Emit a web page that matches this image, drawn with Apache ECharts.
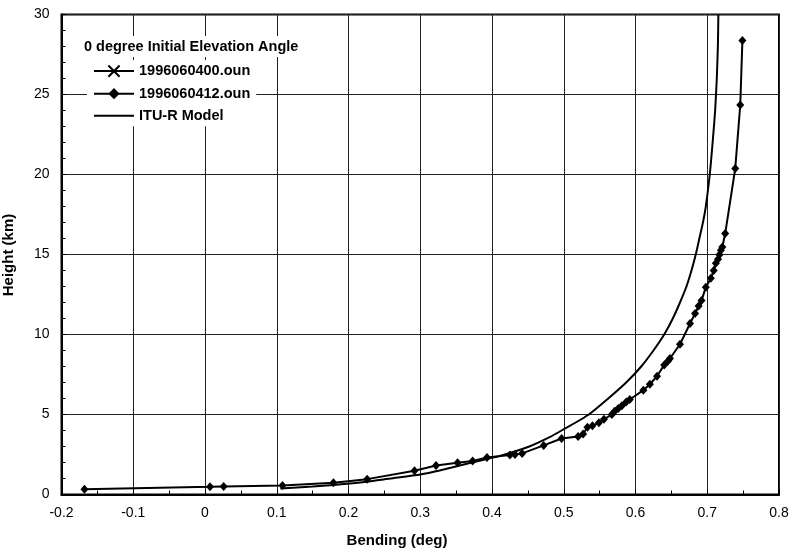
<!DOCTYPE html>
<html>
<head>
<meta charset="utf-8">
<script src="https://cdn.jsdelivr.net/npm/echarts@6/dist/echarts.min.js"></script>
<style>
  html, body { margin: 0; padding: 0; background: #fff; }
  #chart { width: 794px; height: 558px; }
</style>
</head>
<body>
<div id="chart"></div>
<script>
// Ray bending versus height, 0 degree initial elevation
const chartTitle = '0 degree Initial Elevation Angle';
const seriesNames = ['1996060400.oun', '1996060412.oun', 'ITU-R Model'];
const xTicks = ['-0.2', '-0.1', '0', '0.1', '0.2', '0.3', '0.4', '0.5', '0.6', '0.7', '0.8'];
const yTicks = ['0', '5', '10', '15', '20', '25', '30'];

// 1996060400.oun (no samples plotted)
const bend0400 = [];
const height0400 = [];

// 1996060412.oun
const bend0412 = [-0.168, 0.007, 0.026, 0.108, 0.179, 0.226, 0.292, 0.322, 0.352, 0.373,
  0.393, 0.425, 0.432, 0.442, 0.472, 0.497, 0.52, 0.527, 0.533, 0.54,
  0.549, 0.556, 0.567, 0.571, 0.576, 0.581, 0.587, 0.592, 0.611, 0.62,
  0.63, 0.64, 0.645, 0.648, 0.662, 0.676, 0.683, 0.688, 0.692, 0.698,
  0.705, 0.709, 0.712, 0.715, 0.717, 0.719, 0.721, 0.725, 0.739, 0.746, 0.749];
const height0412 = [0.33, 0.48, 0.5, 0.57, 0.74, 0.96, 1.48, 1.81, 1.98, 2.1,
  2.31, 2.47, 2.5, 2.57, 3.07, 3.5, 3.62, 3.78, 4.2, 4.3,
  4.48, 4.7, 5.0, 5.2, 5.37, 5.55, 5.78, 5.94, 6.52, 6.89,
  7.39, 8.1, 8.33, 8.5, 9.39, 10.69, 11.31, 11.78, 12.12, 12.96,
  13.52, 14.0, 14.45, 14.7, 14.98, 15.27, 15.47, 16.31, 20.37, 24.35, 28.37];

// ITU-R Model
const bendItu = [0.105, 0.15, 0.179, 0.225, 0.258, 0.3, 0.327, 0.372, 0.41, 0.452,
  0.481, 0.497, 0.535, 0.562, 0.587, 0.608, 0.625, 0.64, 0.652, 0.662,
  0.671, 0.678, 0.684, 0.689, 0.694, 0.698, 0.7035, 0.7075, 0.711, 0.7133, 0.7148, 0.7155];
const heightItu = [0.37, 0.5, 0.6, 0.8, 1.0, 1.25, 1.5, 2.0, 2.4, 3.0,
  3.6, 4.0, 5.0, 6.0, 7.0, 8.0, 9.0, 10.0, 11.0, 12.0,
  13.0, 14.0, 15.0, 16.0, 17.0, 18.0, 20.0, 22.0, 24.0, 26.0, 28.0, 30.0];

const pairs = (xs, ys) => xs.map((x, i) => [x, ys[i]]);

const FONT = '"Liberation Sans", Arial, Helvetica, sans-serif';
const chart = echarts.init(document.getElementById('chart'), null, { renderer: 'canvas' });

chart.setOption({
  backgroundColor: '#fff',
  animation: false,
  grid: {
    left: 61.5, right: 15, top: 14.5, bottom: 63.5,
    show: true, borderColor: '#000', borderWidth: 2, backgroundColor: 'transparent'
  },
  title: {
    text: chartTitle,
    left: 78, top: 36,
    padding: [3, 6, 3, 6],
    backgroundColor: '#fff',
    textStyle: { fontFamily: FONT, fontSize: 14.5, fontWeight: 'bold', color: '#000' }
  },
  legend: {
    orient: 'vertical',
    left: 87, top: 60,
    padding: [3, 6, 3, 6],
    backgroundColor: '#fff',
    itemWidth: 40, itemHeight: 14, itemGap: 7,
    data: [
      { name: seriesNames[0] },
      { name: seriesNames[1] },
      { name: seriesNames[2], icon: 'path://M0,0h40v2h-40z' }
    ],
    textStyle: { fontFamily: FONT, fontSize: 14.5, fontWeight: 'bold', color: '#000' }
  },
  xAxis: {
    type: 'value', min: -0.2, max: 0.8, interval: 0.1,
    axisLine: { show: true, onZero: false, lineStyle: { color: '#000', width: 2 } },
    axisTick: { show: true, inside: true, length: 5, lineStyle: { color: '#000' } },
    minorTick: { show: true, splitNumber: 2, length: 4, lineStyle: { color: '#000' } },
    splitLine: { show: true, lineStyle: { color: '#222', width: 1 } },
    axisLabel: {
      margin: 12, fontFamily: FONT, fontSize: 14, color: '#000',
      formatter: v => xTicks[Math.round((v + 0.2) * 10)]
    }
  },
  yAxis: {
    type: 'value', min: 0, max: 30, interval: 5,
    axisLine: { show: true, onZero: false, lineStyle: { color: '#000', width: 2 } },
    axisTick: { show: true, inside: true, length: 5, lineStyle: { color: '#000' } },
    minorTick: { show: true, splitNumber: 5, length: 4, lineStyle: { color: '#000' } },
    splitLine: { show: true, lineStyle: { color: '#222', width: 1 } },
    axisLabel: {
      margin: 12, fontFamily: FONT, fontSize: 14, color: '#000',
      formatter: v => yTicks[Math.round(v / 5)]
    }
  },
  graphic: [
    {
      type: 'text', left: 'center', top: 533, z: 10,
      style: { text: 'Bending (deg)', font: 'bold 15px ' + FONT, fill: '#000' }
    },
    {
      type: 'text', x: 9, y: 255, rotation: Math.PI / 2, z: 10,
      style: { text: 'Height (km)', font: 'bold 15px ' + FONT, fill: '#000',
               textAlign: 'center', textVerticalAlign: 'middle' }
    }
  ],
  series: [
    {
      name: seriesNames[0], type: 'line',
      data: pairs(bend0400, height0400),
      symbol: 'path://M0,0L10,10M10,0L0,10', symbolSize: 9,
      lineStyle: { color: '#000', width: 2 },
      itemStyle: { color: 'none', borderColor: '#000', borderWidth: 2 }
    },
    {
      name: seriesNames[1], type: 'line',
      data: pairs(bend0412, height0412),
      symbol: 'diamond', symbolSize: [8, 9], showAllSymbol: true,
      lineStyle: { color: '#000', width: 2 },
      itemStyle: { color: '#000' }, z: 3
    },
    {
      name: seriesNames[2], type: 'line',
      data: pairs(bendItu, heightItu),
      symbol: 'none', smooth: 0.2,
      lineStyle: { color: '#000', width: 2 },
      itemStyle: { color: '#000' }, z: 2
    }
  ]
});
</script>
</body>
</html>
